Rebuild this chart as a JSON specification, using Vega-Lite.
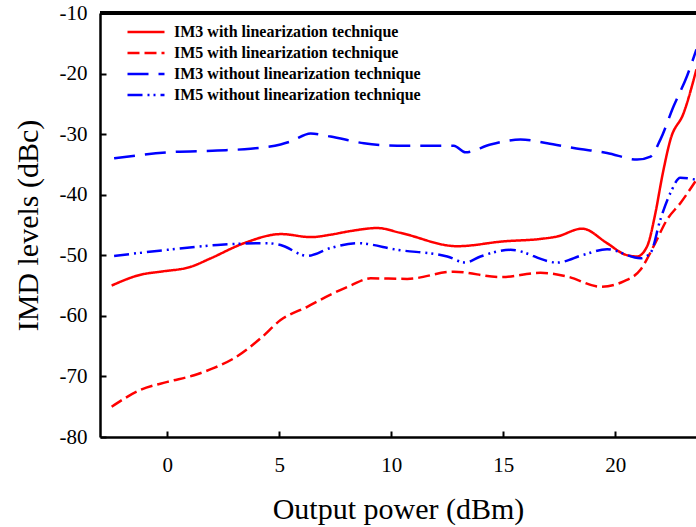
{
  "$schema": "https://vega.github.io/schema/vega-lite/v6.json",
  "width": 596,
  "height": 424,
  "autosize": {"type": "none"},
  "padding": {"left": 100, "top": 13, "right": 0, "bottom": 90},
  "background": "white",
  "config": {"view": {"stroke": null}, "font": "Liberation Serif"},
  "data": {"values": [
    {"series": "IM3 with linearization technique", "x": -2.48, "y": -55.0},
    {"series": "IM3 with linearization technique", "x": -1.18, "y": -53.2},
    {"series": "IM3 with linearization technique", "x": -0.29, "y": -52.7},
    {"series": "IM3 with linearization technique", "x": 1.05, "y": -51.9},
    {"series": "IM3 with linearization technique", "x": 1.94, "y": -50.5},
    {"series": "IM3 with linearization technique", "x": 3.43, "y": -48.0},
    {"series": "IM3 with linearization technique", "x": 5.08, "y": -46.5},
    {"series": "IM3 with linearization technique", "x": 6.42, "y": -47.0},
    {"series": "IM3 with linearization technique", "x": 7.29, "y": -46.6},
    {"series": "IM3 with linearization technique", "x": 8.18, "y": -46.0},
    {"series": "IM3 with linearization technique", "x": 9.38, "y": -45.5},
    {"series": "IM3 with linearization technique", "x": 10.41, "y": -46.3},
    {"series": "IM3 with linearization technique", "x": 12.94, "y": -48.5},
    {"series": "IM3 with linearization technique", "x": 15.02, "y": -47.7},
    {"series": "IM3 with linearization technique", "x": 16.66, "y": -47.3},
    {"series": "IM3 with linearization technique", "x": 17.4, "y": -46.9},
    {"series": "IM3 with linearization technique", "x": 18.52, "y": -45.6},
    {"series": "IM3 with linearization technique", "x": 19.63, "y": -48.0},
    {"series": "IM3 with linearization technique", "x": 20.45, "y": -49.9},
    {"series": "IM3 with linearization technique", "x": 20.97, "y": -50.2},
    {"series": "IM3 with linearization technique", "x": 21.42, "y": -48.5},
    {"series": "IM3 with linearization technique", "x": 21.79, "y": -43.0},
    {"series": "IM3 with linearization technique", "x": 22.09, "y": -37.0},
    {"series": "IM3 with linearization technique", "x": 22.46, "y": -30.9},
    {"series": "IM3 with linearization technique", "x": 23.05, "y": -26.5},
    {"series": "IM3 with linearization technique", "x": 23.62, "y": -19.3},

    {"series": "IM5 with linearization technique", "x": -2.48, "y": -75.0},
    {"series": "IM5 with linearization technique", "x": -1.18, "y": -72.2},
    {"series": "IM5 with linearization technique", "x": 0.01, "y": -70.9},
    {"series": "IM5 with linearization technique", "x": 1.2, "y": -69.8},
    {"series": "IM5 with linearization technique", "x": 2.09, "y": -68.6},
    {"series": "IM5 with linearization technique", "x": 2.98, "y": -67.0},
    {"series": "IM5 with linearization technique", "x": 4.17, "y": -63.7},
    {"series": "IM5 with linearization technique", "x": 5.06, "y": -60.7},
    {"series": "IM5 with linearization technique", "x": 6.25, "y": -58.5},
    {"series": "IM5 with linearization technique", "x": 7.29, "y": -56.5},
    {"series": "IM5 with linearization technique", "x": 8.18, "y": -55.0},
    {"series": "IM5 with linearization technique", "x": 9.08, "y": -53.8},
    {"series": "IM5 with linearization technique", "x": 10.71, "y": -53.9},
    {"series": "IM5 with linearization technique", "x": 12.79, "y": -52.7},
    {"series": "IM5 with linearization technique", "x": 14.87, "y": -53.6},
    {"series": "IM5 with linearization technique", "x": 16.66, "y": -52.9},
    {"series": "IM5 with linearization technique", "x": 17.85, "y": -53.5},
    {"series": "IM5 with linearization technique", "x": 19.34, "y": -55.2},
    {"series": "IM5 with linearization technique", "x": 20.37, "y": -54.3},
    {"series": "IM5 with linearization technique", "x": 21.12, "y": -52.4},
    {"series": "IM5 with linearization technique", "x": 21.71, "y": -48.5},
    {"series": "IM5 with linearization technique", "x": 22.31, "y": -44.1},
    {"series": "IM5 with linearization technique", "x": 22.9, "y": -41.4},
    {"series": "IM5 with linearization technique", "x": 23.57, "y": -37.8},

    {"series": "IM3 without linearization technique", "x": -2.37, "y": -34.0},
    {"series": "IM3 without linearization technique", "x": 0.01, "y": -33.0},
    {"series": "IM3 without linearization technique", "x": 2.24, "y": -32.7},
    {"series": "IM3 without linearization technique", "x": 3.72, "y": -32.4},
    {"series": "IM3 without linearization technique", "x": 5.06, "y": -31.7},
    {"series": "IM3 without linearization technique", "x": 5.51, "y": -31.2},
    {"series": "IM3 without linearization technique", "x": 6.4, "y": -29.9},
    {"series": "IM3 without linearization technique", "x": 7.29, "y": -30.4},
    {"series": "IM3 without linearization technique", "x": 8.78, "y": -31.5},
    {"series": "IM3 without linearization technique", "x": 10.27, "y": -31.9},
    {"series": "IM3 without linearization technique", "x": 12.79, "y": -31.9},
    {"series": "IM3 without linearization technique", "x": 13.31, "y": -33.0},
    {"series": "IM3 without linearization technique", "x": 14.43, "y": -31.7},
    {"series": "IM3 without linearization technique", "x": 15.77, "y": -30.9},
    {"series": "IM3 without linearization technique", "x": 16.96, "y": -31.5},
    {"series": "IM3 without linearization technique", "x": 18.14, "y": -32.3},
    {"series": "IM3 without linearization technique", "x": 19.63, "y": -33.1},
    {"series": "IM3 without linearization technique", "x": 20.97, "y": -34.2},
    {"series": "IM3 without linearization technique", "x": 21.57, "y": -33.7},
    {"series": "IM3 without linearization technique", "x": 22.01, "y": -30.9},
    {"series": "IM3 without linearization technique", "x": 22.6, "y": -25.4},
    {"series": "IM3 without linearization technique", "x": 23.2, "y": -20.4},
    {"series": "IM3 without linearization technique", "x": 23.62, "y": -16.0},

    {"series": "IM5 without linearization technique", "x": -2.37, "y": -50.1},
    {"series": "IM5 without linearization technique", "x": 0.01, "y": -49.1},
    {"series": "IM5 without linearization technique", "x": 2.24, "y": -48.3},
    {"series": "IM5 without linearization technique", "x": 4.47, "y": -48.0},
    {"series": "IM5 without linearization technique", "x": 5.06, "y": -48.3},
    {"series": "IM5 without linearization technique", "x": 6.25, "y": -50.1},
    {"series": "IM5 without linearization technique", "x": 7.29, "y": -48.8},
    {"series": "IM5 without linearization technique", "x": 8.48, "y": -48.0},
    {"series": "IM5 without linearization technique", "x": 10.27, "y": -49.1},
    {"series": "IM5 without linearization technique", "x": 12.5, "y": -50.2},
    {"series": "IM5 without linearization technique", "x": 13.31, "y": -51.2},
    {"series": "IM5 without linearization technique", "x": 13.98, "y": -50.2},
    {"series": "IM5 without linearization technique", "x": 15.32, "y": -49.1},
    {"series": "IM5 without linearization technique", "x": 17.4, "y": -51.2},
    {"series": "IM5 without linearization technique", "x": 18.59, "y": -49.9},
    {"series": "IM5 without linearization technique", "x": 19.63, "y": -49.0},
    {"series": "IM5 without linearization technique", "x": 21.12, "y": -50.5},
    {"series": "IM5 without linearization technique", "x": 21.57, "y": -49.6},
    {"series": "IM5 without linearization technique", "x": 22.01, "y": -44.1},
    {"series": "IM5 without linearization technique", "x": 22.46, "y": -39.7},
    {"series": "IM5 without linearization technique", "x": 22.9, "y": -37.2},
    {"series": "IM5 without linearization technique", "x": 23.57, "y": -37.5}
  ]},
  "layer": [
    {
      "mark": {"type": "line", "interpolate": "monotone", "strokeWidth": 2.5, "clip": true},
      "encoding": {
        "x": {
          "field": "x", "type": "quantitative",
          "scale": {"domain": [-3, 23.6], "nice": false, "zero": false},
          "axis": {
            "title": "Output power (dBm)", "values": [0, 5, 10, 15, 20], "grid": false,
            "tickSize": -6, "tickWidth": 2, "tickColor": "black",
            "domainColor": "black", "domainWidth": 2.5,
            "labelFont": "Liberation Serif", "labelFontSize": 21, "labelColor": "black",
            "labelPadding": 23, "labelFlush": false, "labelOverlap": false,
            "titleFont": "Liberation Serif", "titleFontSize": 30, "titleFontWeight": "normal",
            "titleColor": "black", "titleBaseline": "alphabetic", "titleY": 81
          }
        },
        "y": {
          "field": "y", "type": "quantitative",
          "scale": {"domain": [-80, -10], "nice": false, "zero": false},
          "axis": {
            "title": "IMD levels (dBc)", "values": [-80, -70, -60, -50, -40, -30, -20, -10], "grid": false,
            "tickSize": -6, "tickWidth": 2, "tickColor": "black",
            "domainColor": "black", "domainWidth": 2.5,
            "labelFont": "Liberation Serif", "labelFontSize": 21, "labelColor": "black",
            "labelPadding": 19, "labelFlush": false, "labelOverlap": false,
            "labelExpr": "replace(datum.label, '\u2212', '-')",
            "titleFont": "Liberation Serif", "titleFontSize": 30, "titleFontWeight": "normal",
            "titleColor": "black", "titleBaseline": "alphabetic", "titleAngle": 270, "titleX": -63
          }
        },
        "color": {
          "field": "series", "type": "nominal",
          "scale": {
            "domain": ["IM3 with linearization technique", "IM5 with linearization technique", "IM3 without linearization technique", "IM5 without linearization technique"],
            "range": ["#ff0000", "#ff0000", "#0000ff", "#0000ff"]
          },
          "legend": {
            "title": null, "orient": "none", "legendX": 26, "legendY": 11,
            "symbolType": "stroke", "symbolSize": 1369, "symbolStrokeWidth": 2.5,
            "clipHeight": 16, "rowPadding": 5, "padding": 0,
            "labelFont": "Liberation Serif", "labelFontWeight": "bold", "labelFontSize": 16,
            "labelColor": "black", "labelOffset": 8, "labelLimit": 400
          }
        },
        "strokeDash": {
          "field": "series", "type": "nominal",
          "scale": {
            "domain": ["IM3 with linearization technique", "IM5 with linearization technique", "IM3 without linearization technique", "IM5 without linearization technique"],
            "range": [[1, 0], [12, 5], [21, 10], [15, 5, 2, 4, 2, 5]]
          },
          "legend": {
            "title": null, "orient": "none", "legendX": 26, "legendY": 11,
            "symbolType": "stroke", "symbolSize": 1369, "symbolStrokeWidth": 2.5,
            "clipHeight": 16, "rowPadding": 5, "padding": 0,
            "labelFont": "Liberation Serif", "labelFontWeight": "bold", "labelFontSize": 16,
            "labelColor": "black", "labelOffset": 8, "labelLimit": 400
          }
        }
      }
    },
    {
      "mark": {"type": "rule", "color": "black", "strokeWidth": 2.5},
      "encoding": {"y": {"datum": -10}}
    }
  ]
}
